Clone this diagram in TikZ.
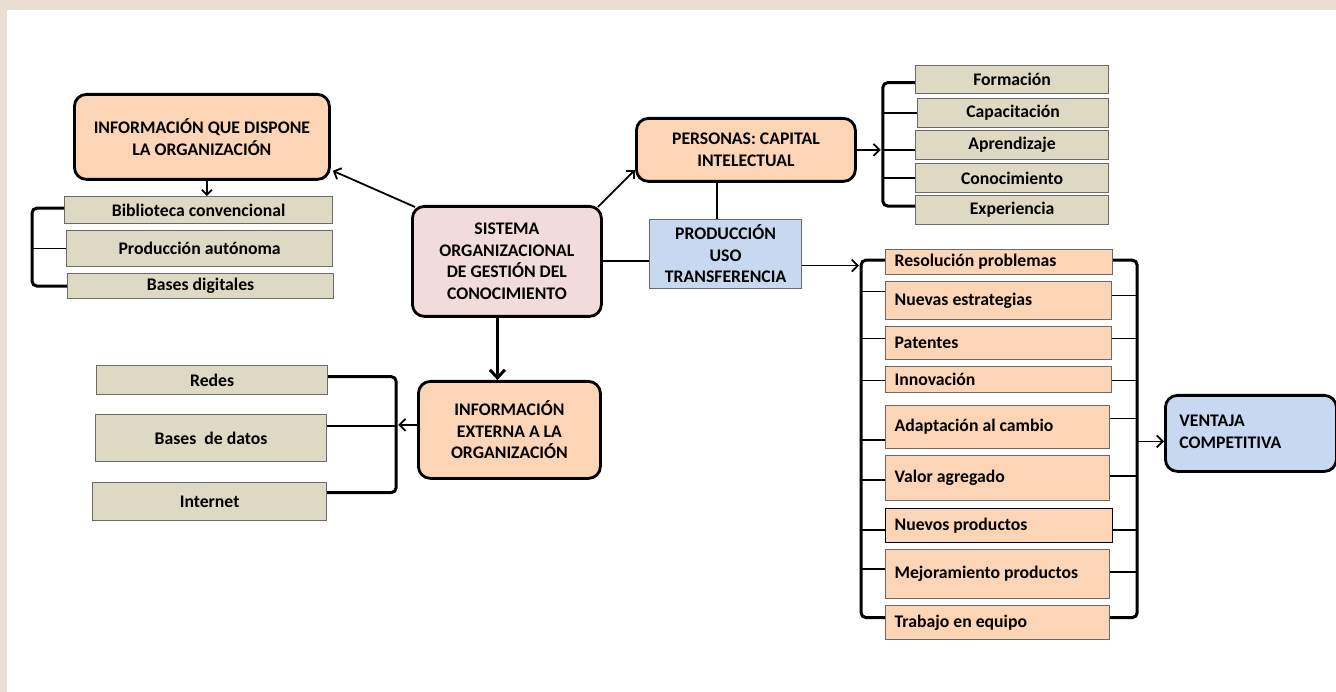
\documentclass[tikz,border=0pt]{standalone}
\usepackage{fontspec}
\setmainfont{Carlito}
\usetikzlibrary{arrows.meta,calc}

\definecolor{peach}{HTML}{FBD5B5}
\definecolor{boxtan}{HTML}{DDD9C3}
\definecolor{rosa}{HTML}{F2DCDB}
\definecolor{celeste}{HTML}{C6D9F1}
\definecolor{marco}{RGB}{232,223,210}
\definecolor{borde}{HTML}{6A6A6A}

% box given by its corners: name, style, x1, y1, x2, y2, text (centred)
\newcommand\cajon[7]{%
  \node[#2, align=center, anchor=north west,
        minimum width={#5-#3}, minimum height={#6-#4}] (#1) at (#3,#4) {#7};}
% same, with the text set flush left
\newcommand\cajonizq[7]{%
  \node[#2, anchor=north west, minimum height={#6-#4}] (#1) at (#3,#4)
    {\makebox[\dimexpr #5pt-#3pt\relax][l]{\hspace{9pt}#7}};}

\begin{document}
\begin{tikzpicture}[x=1pt,y=-1pt,
  every node/.style={font=\fontsize{17.7}{21.5}\selectfont\bfseries},
  ovalo/.style={draw=black, line width=2.8pt, rounded corners=12pt, inner sep=0pt},
  caja/.style={draw=borde, line width=1.2pt, inner sep=0pt},
  enlace/.style={line width=1.8pt, -{Straight Barb[length=6pt,width=12pt]}},
  recta/.style={line width=1.8pt},
  llave/.style={line width=3pt, rounded corners=5pt},
  grueso/.style={line width=3pt, -{Straight Barb[length=8pt,width=15pt]}}]

\useasboundingbox (0,0) rectangle (1336,692);
\fill[marco] (0,0) rectangle (1336,692);
\fill[white] (7,10) rectangle (1336,692);

% main blocks
\cajon{infoq}{ovalo,fill=peach}{73}{93}{328}{178}{INFORMACIÓN QUE DISPONE\\LA ORGANIZACIÓN}
\cajon{central}{ovalo,fill=rosa}{411}{205}{600}{315}{SISTEMA\\ORGANIZACIONAL\\DE GESTIÓN DEL\\CONOCIMIENTO}
\cajon{pers}{ovalo,fill=peach}{635}{117}{854}{180}{PERSONAS: CAPITAL\\INTELECTUAL}
\cajon{infoe}{ovalo,fill=peach}{417}{380}{599}{477}{INFORMACIÓN\\EXTERNA A LA\\ORGANIZACIÓN}
\cajon{prodc}{caja,fill=celeste}{649}{219}{801}{288}{PRODUCCIÓN\\USO\\TRANSFERENCIA}
\node[ovalo, fill=celeste, anchor=north west, minimum height=76] (ventaja) at (1164,394)
  {\makebox[171pt][l]{\hspace{14pt}\begin{tabular}{@{}l@{}}VENTAJA\\COMPETITIVA\end{tabular}}};

% internal sources
\cajon{bib}{caja,fill=boxtan}{64}{196}{332}{223}{Biblioteca convencional}
\cajon{prod}{caja,fill=boxtan}{66}{230}{332}{266}{Producción autónoma}
\cajon{bases}{caja,fill=boxtan}{67}{273}{333}{298}{Bases digitales}

% external sources
\cajon{redes}{caja,fill=boxtan}{96}{365}{327}{394}{Redes}
\cajon{bdatos}{caja,fill=boxtan}{95}{414}{326}{461}{Bases\ \ de datos}
\cajon{internet}{caja,fill=boxtan}{92}{482}{326}{520}{Internet}

% human capital
\cajon{form}{caja,fill=boxtan}{915}{65}{1108}{93}{Formación}
\cajon{capa}{caja,fill=boxtan}{917}{98}{1108}{127}{Capacitación}
\cajon{apre}{caja,fill=boxtan}{915}{130}{1108}{159}{Aprendizaje}
\cajon{cono}{caja,fill=boxtan}{915}{163}{1108}{192}{Conocimiento}
\cajon{expe}{caja,fill=boxtan}{915}{195}{1108}{224}{Experiencia}

% results
\cajonizq{r1}{caja,fill=peach}{885}{249}{1112}{274}{Resolución problemas}
\cajonizq{r2}{caja,fill=peach}{885}{281}{1111}{319}{Nuevas estrategias}
\cajonizq{r3}{caja,fill=peach}{885}{326}{1111}{359}{Patentes}
\cajonizq{r4}{caja,fill=peach}{885}{366}{1111}{392}{Innovación}
\cajonizq{r5}{caja,fill=peach}{885}{405}{1109}{448}{Adaptación al cambio}
\cajonizq{r6}{caja,fill=peach}{885}{455}{1109}{500}{Valor agregado}
\cajonizq{r7}{caja,fill=peach,draw=black}{885}{508}{1112}{542}{Nuevos productos}
\cajonizq{r8}{caja,fill=peach}{885}{549}{1109}{598}{Mejoramiento productos}
\cajonizq{r9}{caja,fill=peach}{885}{605}{1109}{639}{Trabajo en equipo}

% connectors from the central block
\draw[enlace] ($(central.north west)+(4,2)$) -- ($(infoq.south east)+(2,-10)$);
\draw[enlace] ($(central.north east)+(-5,2)$) -- ($(pers.south west)+(0,-13)$);
\draw[recta] (central.east) -- (central.east -| prodc.west);
\coordinate (c1) at ($(central.south)+(-9.5,0)$);
\draw[grueso] (c1) -- (c1 |- infoe.north);

% internal information
\coordinate (a1) at ($(infoq.south)+(5,0)$);
\draw[enlace, -{Straight Barb[length=5pt,width=10pt]}] (a1) -- (a1 |- bib.north);
\draw[llave] ($(bib.west)+(0,-2)$) -- ++(-32,0) coordinate (lbT) |- (bases.west);
\draw[recta] (prod.west) -- (prod.west -| lbT);

% human capital
\coordinate (pb) at ($(pers.east)+(26,0)$);
\draw[enlace] (pers.east) -- ($(pb)+(-2,0)$);
\draw[llave] ($(form.west)+(0,3)$) -| (pb) |- ($(expe.west)+(0,-4)$);
\draw[recta] (capa.west) -- (capa.west -| pb);
\draw[recta] (pb) -- (pb -| apre.west);
\draw[recta] (cono.west) -- (cono.west -| pb);
\coordinate (p1) at ($(prodc.north)+(-9,0)$);
\draw[recta] (p1) -- (p1 |- pers.south);

% results group
\coordinate (pe) at ($(prodc.east)+(0,11.5)$);
\coordinate (gl) at ($(r1.west)+(-24,0)$);
\coordinate (pg) at (pe -| gl);
\draw[enlace] (pe) -- ($(pg)+(-2,0)$);
\draw[llave] ($(r1.west)+(0,-2)$) -| ($(r9.west)+(-24,-5)$) -- ($(r9.west)+(0,-5)$);
\draw[llave] ($(r1.east)+(0,-2)$) -| ($(r9.east)+(27,-5)$) -- ($(r9.east)+(0,-5)$);
\coordinate (grx) at ($(r9.east)+(27,0)$);
\foreach \n/\dl/\dr in {r2/-9/-5, r3/-4.5/-4.5, r4/1/1, r5/12.5/-8.5,
                        r6/1.5/-2.5, r7/4/4, r8/-5.5/-2.5} {
  \draw[recta] ($(\n.west)+(0,\dl)$) -- ($(\n.west)+(-24,\dl)$);
  \draw[recta] ($(\n.east)+(0,\dr)$) -- ($(grx |- \n.east)+(0,\dr)$);
}
\draw[enlace] ($(grx |- ventaja.west)+(0,8)$) -- ($(ventaja.west)+(0,8)$);

% external information
\coordinate (lb2) at ($(redes.east)+(68,0)$);
\draw[llave] ($(redes.east)+(0,-3.5)$) -| ($(internet.east)+(69,-9)$) -- ($(internet.east)+(0,-9)$);
\draw[recta] ($(bdatos.east)+(0,-12)$) -- ($(lb2 |- bdatos.east)+(0,-12)$);
\draw[enlace] ($(infoe.west)+(0,-5)$) -- ($(lb2 |- infoe.west)+(2,-5)$);

\end{tikzpicture}
\end{document}
